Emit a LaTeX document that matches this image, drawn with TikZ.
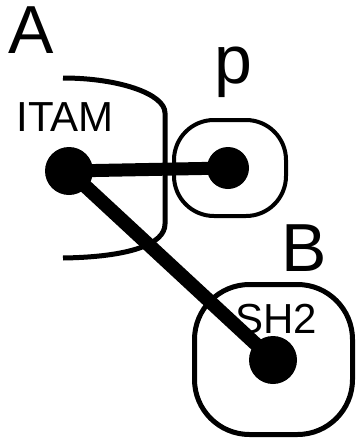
\documentclass[tikz,border=0pt]{standalone}
\usepackage{fontspec}
\setmainfont{Liberation Sans}
\tikzset{
  site/.style={circle,fill=black,inner sep=0pt,minimum size=#1},
  domainbox/.style={draw,rounded corners=#1,inner sep=0pt},
  biglabel/.style={inner sep=0pt,font=\fontsize{68}{68}\selectfont},
  smalllabel/.style={inner sep=0pt,font=\fontsize{42}{42}\selectfont}
}
\begin{document}
\begin{tikzpicture}[x=1pt,y=-1pt]
  \useasboundingbox (0,0) rectangle (359,439);
  % domain A
  \draw[line width=5pt]
    (63,78) .. controls (119,78) and (165,94) .. (165,113)
    -- (165,224) .. controls (165,244) and (130,257) .. (63,258);
  \draw
    (230,168) node[domainbox=40pt,line width=4pt,minimum width=112pt,minimum height=96pt] (pbox) {}
    (273.5,359.5) node[domainbox=55pt,line width=5pt,minimum width=158pt,minimum height=150pt] (sh2box) {};
  \draw
    (31,30) node[biglabel] (A) {A}
    (233,72) node[biglabel] (p) {p}
    (304,248) node[biglabel] (B) {B}
    (65,117) node[smalllabel] (itamlabel) {ITAM}
    (276,319) node[smalllabel] (sh2label) {SH2}
    (69,171) node[site=48pt] (itam) {}
    (228,168) node[site=42pt] (pdot) {}
    (273,360) node[site=48pt] (sh2) {};
  \begin{scope}[line width=13pt]
    \draw (itam.center) to (pdot.center);
    \draw[line width=14pt] (itam.center) to (sh2.center);
  \end{scope}
\end{tikzpicture}
\end{document}
